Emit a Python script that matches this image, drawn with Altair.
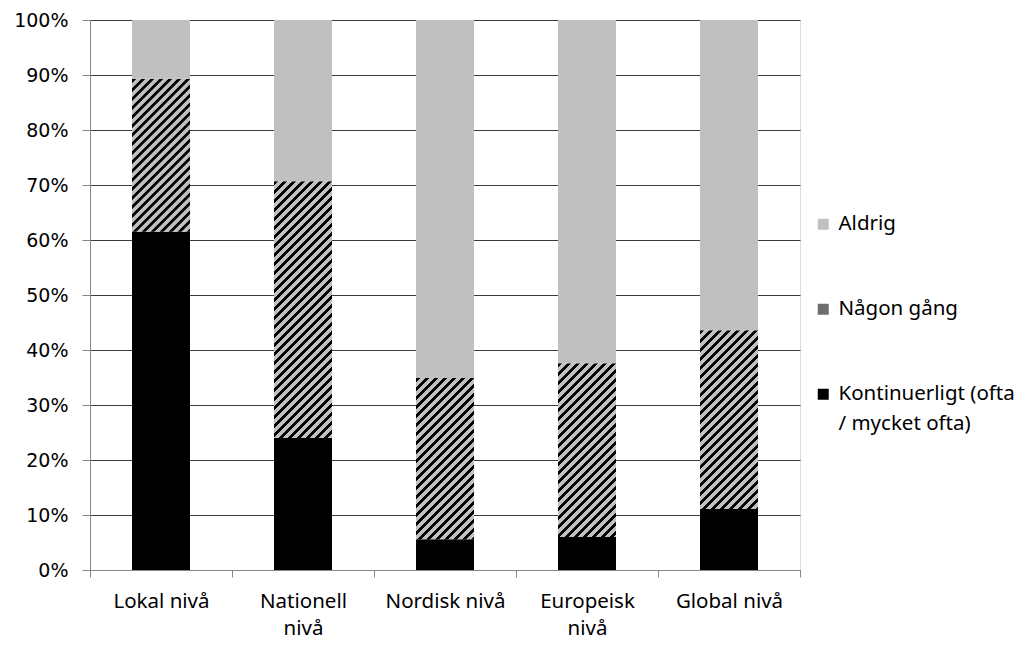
import altair as alt
import pandas as pd

# ---- data ----
categories = ["Lokal nivå", "Nationell nivå", "Nordisk nivå", "Europeisk nivå", "Global nivå"]
series = ["Aldrig", "Någon gång", "Kontinuerligt (ofta / mycket ofta)"]
kontinuerligt = [61.5, 24.0, 5.6, 6.0, 11.1]
nagon_gang = [27.8, 46.7, 29.3, 31.6, 32.5]
aldrig = [10.7, 29.3, 65.1, 62.4, 56.4]
y_ticks = [0, 10, 20, 30, 40, 50, 60, 70, 80, 90, 100]

# ---- style ----
PLOT_W, PLOT_H = 710, 550
BAR_W = 58
PERIOD = 9.0      # stripe period (px, along x+y)
GREY = "#c0c0c0"
DARK = "#000000"


def hatch(value):
    """Diagonal stripe fill as a linear gradient in the bar's bounding box."""
    h = value / 100.0 * PLOT_H
    w = BAR_W
    L = (w * w + h * h) / w
    stops = []
    base = 0.0
    while base < L:
        for off, col in [(0.0, GREY), (0.9, DARK), (3.9, DARK), (4.8, GREY)]:
            o = min((base + off) / L, 1.0)
            stops.append({"offset": round(o, 5), "color": col})
        base += PERIOD
    return {"gradient": "linear", "x1": 0, "y1": 0, "x2": 1, "y2": round(h / w, 5), "stops": stops}


rows = []
for i, c in enumerate(categories):
    rows.append({"category": c, "series": series[2], "value": kontinuerligt[i], "ord": 0})
    rows.append({"category": c, "series": series[1], "value": nagon_gang[i], "ord": 1})
    rows.append({"category": c, "series": series[0], "value": aldrig[i], "ord": 2})
df = pd.DataFrame(rows)

conditions = []
for i, c in enumerate(categories):
    conditions.append({
        "test": f"datum.category === '{c}' && datum.series === '{series[1]}'",
        "value": hatch(nagon_gang[i]),
    })

fill = alt.Fill(
    "series:N",
    scale=alt.Scale(domain=series, range=[GREY, "#6e6e6e", DARK]),
    condition=conditions,
    legend=alt.Legend(
        title=None,
        orient="none",
        legendX=723,
        legendY=194,
        symbolType="square",
        symbolSize=121,
        symbolStrokeWidth=0,
        labelFont="Noto Sans",
        labelFontSize=20.5,
        labelColor="#000000",
        labelOffset=5,
        labelLimit=400,
        rowPadding=64,
        labelExpr="datum.label == 'Kontinuerligt (ofta / mycket ofta)' ? ['Kontinuerligt (ofta', '/ mycket ofta)'] : datum.label",
    ),
)

chart = (
    alt.Chart(df)
    .mark_bar(width=BAR_W, strokeWidth=0)
    .encode(
        x=alt.X(
            "category:N",
            sort=categories,
            scale=alt.Scale(paddingInner=0, paddingOuter=0),
            axis=alt.Axis(
                title=None,
                labelAngle=0,
                tickBand="extent",
                tickSize=7,
                tickColor="#868686",
                domainColor="#868686",
                labelFont="Noto Sans",
                labelFontSize=20.5,
                labelColor="#000000",
                labelPadding=14,
                labelLineHeight=27,
                labelExpr="indexof(datum.label, 'Nationell') >= 0 || indexof(datum.label, 'Europeisk') >= 0 ? split(datum.label, ' ') : datum.label",
            ),
        ),
        y=alt.Y(
            "value:Q",
            stack="zero",
            scale=alt.Scale(domain=[0, 100], nice=False),
            axis=alt.Axis(
                title=None,
                values=y_ticks,
                labelExpr="datum.value + '%'",
                labelFont="DejaVu Sans",
                labelFontSize=19,
                labelColor="#000000",
                labelPadding=14,
                tickSize=8,
                tickColor="#868686",
                domainColor="#868686",
                grid=True,
                gridColor="#3c3c3c",
                gridWidth=1,
            ),
        ),
        order=alt.Order("ord:Q"),
        fill=fill,
    )
    .properties(
        width=PLOT_W,
        height=PLOT_H,
        autosize=alt.AutoSizeParams(type="none"),
        padding={"left": 82, "top": 12, "right": 217, "bottom": 70},
    )
    .configure_view(stroke=None)
    .configure(style={"guide-label": {"lineHeight": 30}})
)

chart.save("out.html", embed_options={"renderer": "svg", "actions": False})
